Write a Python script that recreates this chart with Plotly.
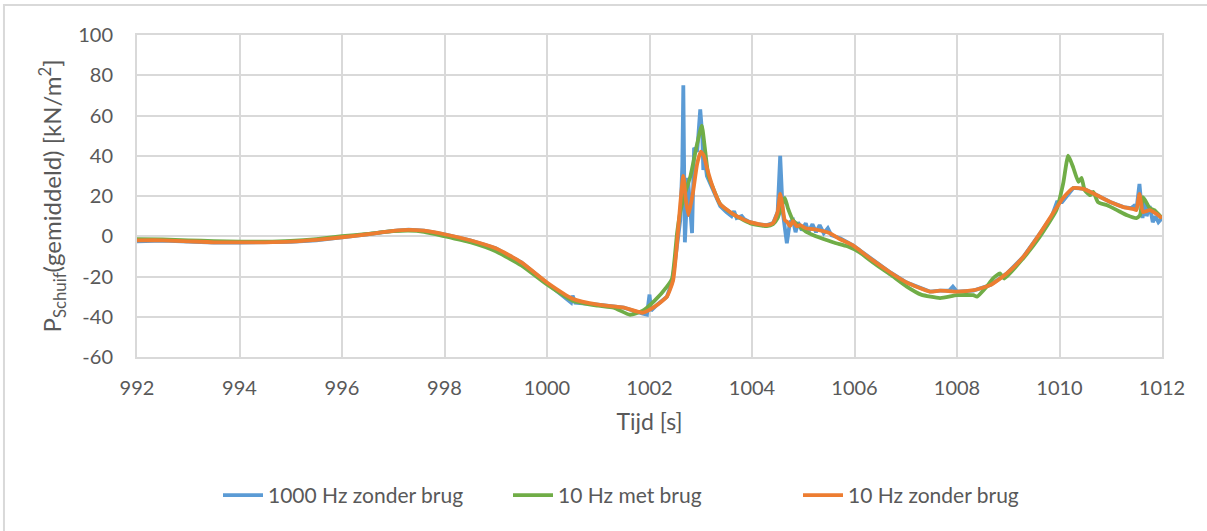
import plotly.graph_objects as go

# Tijd [s] and P_schuif values
blue_pts = [
    (992, -2.5), (992.5, -2.2), (993, -2.7), (993.5, -3.2), (994, -3.2), (994.5, -3.2),
    (995, -2.8), (995.5, -2.0), (996, -0.6), (996.5, 1.0), (997, 2.7), (997.3, 3.3),
    (997.6, 2.8), (998, 1.0), (998.5, -2.0), (999, -6.0), (999.5, -13.0), (1000, -23.0),
    (1000.4, -31.5), (1000.47, -33.0), (1000.5, -29.5), (1000.55, -33.0), (1001, -34.0),
    (1001.5, -35.5), (1001.87, -38.5), (1001.95, -39.0), (1002.0, -29.0), (1002.03, -37.0),
    (1002.15, -34.0), (1002.34, -30.0), (1002.45, -22.0), (1002.54, -5.0), (1002.6, 8.0),
    (1002.64, 35.0), (1002.66, 75.0), (1002.675, 35.0), (1002.69, -3.0), (1002.75, 29.0),
    (1002.8, 8.0), (1002.83, 1.5), (1002.87, 44.0), (1002.93, 42.0), (1002.99, 63.0),
    (1003.03, 50.0), (1003.05, 33.0), (1003.08, 38.0), (1003.12, 30.0), (1003.24, 23.0),
    (1003.38, 15.0), (1003.5, 12.0), (1003.6, 10.0), (1003.65, 12.5), (1003.7, 9.0),
    (1003.8, 10.0), (1003.85, 8.5), (1003.96, 7.0), (1004.1, 6.0), (1004.29, 5.5),
    (1004.41, 6.5), (1004.5, 12.0), (1004.55, 40.0), (1004.6, 12.0), (1004.68, -3.5),
    (1004.74, 7.0), (1004.8, 8.0), (1004.85, 2.0), (1004.9, 7.0), (1004.97, 3.0),
    (1005.05, 6.5), (1005.1, 2.0), (1005.18, 6.0), (1005.25, 2.0), (1005.32, 5.5),
    (1005.4, 1.5), (1005.48, 4.0), (1005.55, 0.5), (1005.72, -1.0), (1005.97, -4.5),
    (1006.1, -7.0), (1006.36, -12.0), (1006.7, -18.0), (1007.02, -23.0), (1007.47, -27.5),
    (1007.67, -27.0), (1007.85, -27.0), (1007.92, -25.0), (1008.0, -27.5), (1008.32, -27.0),
    (1008.65, -24.3), (1008.97, -18.5), (1009.29, -10.3), (1009.62, 1.5), (1009.85, 10.0),
    (1009.95, 17.0), (1010.05, 17.0), (1010.27, 24.0), (1010.48, 23.5), (1010.72, 20.5),
    (1010.99, 17.0), (1011.25, 14.5), (1011.4, 14.0), (1011.45, 15.0), (1011.5, 13.0),
    (1011.56, 26.0), (1011.62, 9.0), (1011.66, 18.0), (1011.7, 10.0), (1011.76, 15.0),
    (1011.82, 7.0), (1011.87, 10.0), (1011.93, 7.0), (1012, 9.0),
]

green_pts = [
    (992, -1.5), (992.5, -1.6), (993, -2.0), (993.5, -2.4), (994, -2.7), (994.5, -2.7),
    (995, -2.3), (995.5, -1.4), (996, 0.0), (996.5, 1.2), (997, 2.5), (997.3, 2.8),
    (997.6, 2.2), (998, 0.0), (998.5, -3.0), (999, -7.5), (999.5, -14.5), (1000, -24.0),
    (1000.5, -32.0), (1001, -34.5), (1001.3, -35.5), (1001.62, -39.0), (1001.87, -37.0),
    (1002.1, -32.0), (1002.34, -25.0), (1002.44, -21.0), (1002.54, 2.0), (1002.6, 12.0),
    (1002.7, 22.0), (1002.8, 30.0), (1002.93, 46.0), (1003.02, 55.0), (1003.07, 46.0),
    (1003.15, 30.0), (1003.24, 24.0), (1003.38, 16.0), (1003.63, 11.0), (1003.96, 6.5),
    (1004.29, 5.0), (1004.41, 6.0), (1004.5, 9.0), (1004.58, 15.0), (1004.64, 19.0),
    (1004.7, 14.0), (1004.8, 8.0), (1005.07, 2.0), (1005.58, -3.0), (1005.86, -5.0),
    (1006.1, -8.0), (1006.36, -13.0), (1006.7, -19.0), (1007.02, -25.0), (1007.3, -29.0),
    (1007.67, -30.7), (1008.0, -29.3), (1008.32, -29.3), (1008.39, -30.0), (1008.58, -25.0),
    (1008.7, -21.0), (1008.84, -18.5), (1008.92, -21.0), (1009.29, -11.0), (1009.61, -0.5),
    (1009.94, 13.0), (1010.07, 26.0), (1010.17, 40.0), (1010.27, 34.0), (1010.37, 27.0),
    (1010.43, 29.0), (1010.49, 23.0), (1010.6, 20.4), (1010.66, 22.0), (1010.75, 17.0),
    (1010.93, 15.4), (1011.12, 13.0), (1011.32, 10.4), (1011.5, 9.0), (1011.57, 10.4),
    (1011.63, 19.4), (1011.76, 14.0), (1011.85, 13.0), (1012, 9.0),
]

orange_pts = [
    (992, -2.0), (992.5, -2.0), (993, -2.5), (993.5, -3.0), (994, -3.0), (994.5, -3.0),
    (995, -2.7), (995.5, -1.8), (996, -0.5), (996.5, 1.0), (997, 2.7), (997.3, 3.2),
    (997.6, 2.8), (998, 1.0), (998.5, -2.0), (999, -6.0), (999.5, -13.0), (1000, -23.0),
    (1000.5, -31.0), (1001, -34.0), (1001.5, -35.5), (1001.87, -38.0), (1002.1, -35.0),
    (1002.34, -30.0), (1002.46, -22.0), (1002.53, -5.5), (1002.6, 16.0), (1002.66, 30.0),
    (1002.71, 18.0), (1002.76, 10.5), (1002.85, 22.0), (1002.93, 36.0), (1003.0, 42.0),
    (1003.06, 40.0), (1003.12, 34.0), (1003.24, 24.0), (1003.38, 16.0), (1003.63, 11.0),
    (1003.96, 7.0), (1004.29, 5.5), (1004.41, 6.5), (1004.5, 12.0), (1004.55, 21.0),
    (1004.6, 14.0), (1004.64, 8.0), (1004.69, 7.0), (1004.74, 5.0), (1004.8, 7.5),
    (1004.87, 5.0), (1004.94, 5.5), (1005.05, 4.0), (1005.2, 3.5), (1005.52, 1.5),
    (1005.72, -1.5), (1005.97, -4.5), (1006.1, -7.0), (1006.36, -12.0), (1006.7, -18.0),
    (1007.02, -23.0), (1007.47, -27.5), (1007.67, -27.0), (1008.0, -27.5), (1008.32, -26.8),
    (1008.65, -24.3), (1008.97, -18.5), (1009.29, -10.3), (1009.62, 1.5), (1009.95, 14.5),
    (1010.07, 19.0), (1010.27, 24.0), (1010.48, 23.4), (1010.72, 20.5), (1010.99, 17.0),
    (1011.25, 14.5), (1011.45, 13.5), (1011.5, 13.0), (1011.56, 21.0), (1011.63, 12.0),
    (1011.76, 13.0), (1011.9, 11.0), (1012, 9.0),
]

series_names = ["1000 Hz zonder brug", "10 Hz met brug", "10 Hz zonder brug"]
series_colors = ["#5B9BD5", "#70AD47", "#ED7D31"]
series_shapes = ["linear", "spline", "spline"]
x_ticks = [992, 994, 996, 998, 1000, 1002, 1004, 1006, 1008, 1010, 1012]
y_ticks = [-60, -40, -20, 0, 20, 40, 60, 80, 100]

FONT = "Lato, 'Open Sans', sans-serif"
GRID = "#D9D9D9"
TXT = "#595959"

fig = go.Figure()
for pts, name, col, shp in zip([blue_pts, green_pts, orange_pts], series_names,
                               series_colors, series_shapes):
    xs = [p[0] for p in pts]
    ys = [p[1] for p in pts]
    line = dict(color=col, width=3.8, shape=shp)
    if shp == "spline":
        line["smoothing"] = 0.5
    fig.add_trace(go.Scatter(x=xs, y=ys, mode="lines", name=name, line=line))

fig.update_layout(
    width=1207, height=531,
    margin=dict(l=137, r=45, t=35, b=174, autoexpand=False),
    paper_bgcolor="white", plot_bgcolor="white",
    font=dict(family=FONT, color=TXT, size=20),
    showlegend=True,
    legend=dict(orientation="h", x=(218 - 137) / 1025, xanchor="left", y=-0.43,
                yanchor="middle", font=dict(size=21, color=TXT), entrywidth=235,
                entrywidthmode="pixels", traceorder="normal", itemwidth=40),
    shapes=[dict(type="rect", xref="paper", yref="paper", x0=-0.1298, x1=1.06,
                 y0=-0.62, y1=1.0932, line=dict(color=GRID, width=2), layer="below")],
)
fig.update_xaxes(range=[992, 1012], tickvals=x_ticks, ticktext=[str(v) for v in x_ticks],
                 showgrid=True, gridcolor=GRID, gridwidth=2, zeroline=False,
                 showline=True, linecolor=GRID, linewidth=2, mirror=True,
                 ticks="", ticklabelstandoff=12, tickfont=dict(size=20, color=TXT),
                 title=dict(text="Tijd [s]", font=dict(size=23, color=TXT), standoff=16))
fig.update_yaxes(range=[-60, 100], tickvals=y_ticks, ticktext=[str(v) for v in y_ticks],
                 showgrid=True, gridcolor=GRID, gridwidth=2, zeroline=False,
                 showline=True, linecolor=GRID, linewidth=2, mirror=True,
                 ticks="", ticklabelstandoff=18, tickfont=dict(size=20, color=TXT),
                 title=dict(text="P<sub>Schuif</sub>(gemiddeld) [kN/m<sup>2</sup>]",
                            font=dict(size=24, color=TXT), standoff=10))

fig.write_html("out.html")
